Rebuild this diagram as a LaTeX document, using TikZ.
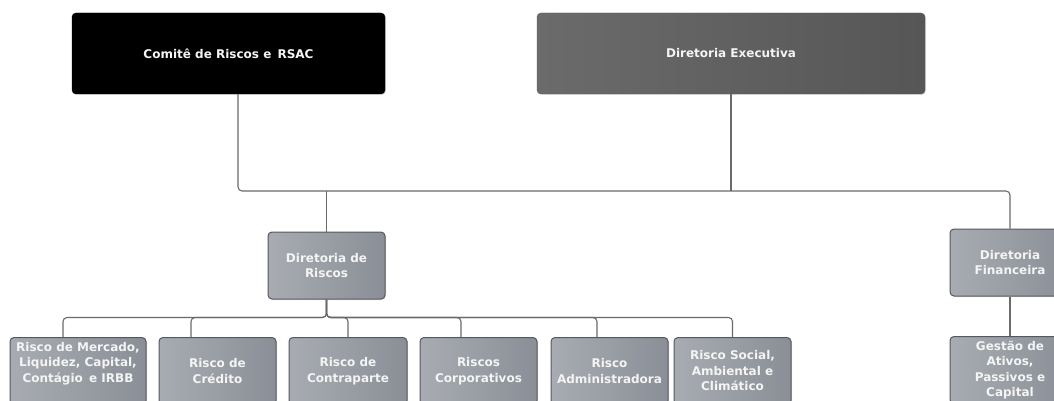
\documentclass[tikz,border=0pt]{standalone}
\usepackage{fontspec}
\setmainfont{DejaVu Sans}
\usetikzlibrary{calc,shadows}
\definecolor{boxL}{HTML}{A8ACB2}
\definecolor{boxR}{HTML}{8A8E96}
\definecolor{boxB}{HTML}{55585E}
\definecolor{lineC}{HTML}{6A6A6A}
\definecolor{execL}{HTML}{6B6B6B}
\definecolor{execR}{HTML}{565656}
\definecolor{txt}{HTML}{F4F4F4}
\tikzset{
  orgbox/.style={rounded corners=4pt, draw=boxB, line width=1pt,
    left color=boxL, right color=boxR, text=txt,
    font=\bfseries\fontsize{12}{15.5}\selectfont, align=center,
    inner sep=2pt, drop shadow={opacity=0.25, shadow xshift=1pt, shadow yshift=-1pt}},
  topbox/.style={rounded corners=4pt, text=txt,
    font=\bfseries\fontsize{12}{15.5}\selectfont, align=center,
    drop shadow={opacity=0.25, shadow xshift=1pt, shadow yshift=-1pt}},
  conn/.style={draw=lineC, line width=1.1pt, rounded corners=4pt},
}
\begin{document}
\begin{tikzpicture}[x=1pt,y=-1pt]
\useasboundingbox (0,0) rectangle (1054,401);
\clip (0,0) rectangle (1054,401);
% top boxes
\node[topbox, fill=black, draw=black, minimum width=313pt, minimum height=81pt] (comite) at (228.5,53.5) {Comitê de Riscos e\, RSAC};
\node[topbox, left color=execL, right color=execR, draw=execR, minimum width=388pt, minimum height=81pt] (exec) at (731,53.5) {Diretoria Executiva};
% second level
\node[orgbox, minimum width=117pt, minimum height=67pt] (riscos) at (326.5,265.5) {Diretoria de\\Riscos};
\node[orgbox, minimum width=120pt, minimum height=67pt] (fin) at (1010,262.5) {Diretoria\\Financeira};
% third level
\node[orgbox, minimum width=120pt, anchor=north, inner ysep=4.5pt] (gestao) at (1010,336) {Gestão de\\Ativos,\\Passivos e\\Capital};
\node[orgbox, minimum width=136pt, minimum height=67pt, anchor=north, text depth=18pt] (m1) at (78,337) {Risco de Mercado,\\Liquidez, Capital,\\Contágio\, e IRBB};
\node[orgbox, minimum width=117pt, minimum height=67pt, anchor=north] (m2) at (217.5,337) {Risco de\\Crédito};
\node[orgbox, minimum width=118pt, minimum height=67pt, anchor=north] (m3) at (348,337) {Risco de\\Contraparte};
\node[orgbox, minimum width=117pt, minimum height=67pt, anchor=north] (m4) at (478.5,337) {Riscos\\Corporativos};
\node[orgbox, minimum width=117pt, minimum height=67pt, anchor=north] (m5) at (609.5,337) {Risco\\Administradora};
\node[orgbox, minimum width=117pt, minimum height=67pt, anchor=north] (m6) at (732.5,337) {Risco Social,\\Ambiental e\\Climático};
% connectors top
\coordinate (bus) at (238,191);
\draw[conn] ([xshift=9.5pt]comite.south) -- (bus) -| (fin.north);
\draw[conn] (exec.south) -- (exec.south |- bus);
\draw[conn] (riscos.north) -- (riscos.north |- bus);
\draw[conn] (fin.south) -- (gestao.north);
% connectors bottom
\draw[conn] (riscos.south) -- ++(0,18) -| ([xshift=-15pt]m1.north);
\draw[conn] (riscos.south) -- ++(0,18) -| ([xshift=-26.5pt]m2.north);
\draw[conn] (riscos.south) -- ++(0,18) -| (m3.north);
\draw[conn] (riscos.south) -- ++(0,18) -| ([xshift=-17.5pt]m4.north);
\draw[conn] (riscos.south) -- ++(0,18) -| ([xshift=-12.5pt]m5.north);
\draw[conn] (riscos.south) -- ++(0,18) -| (m6.north);
\end{tikzpicture}
\end{document}
